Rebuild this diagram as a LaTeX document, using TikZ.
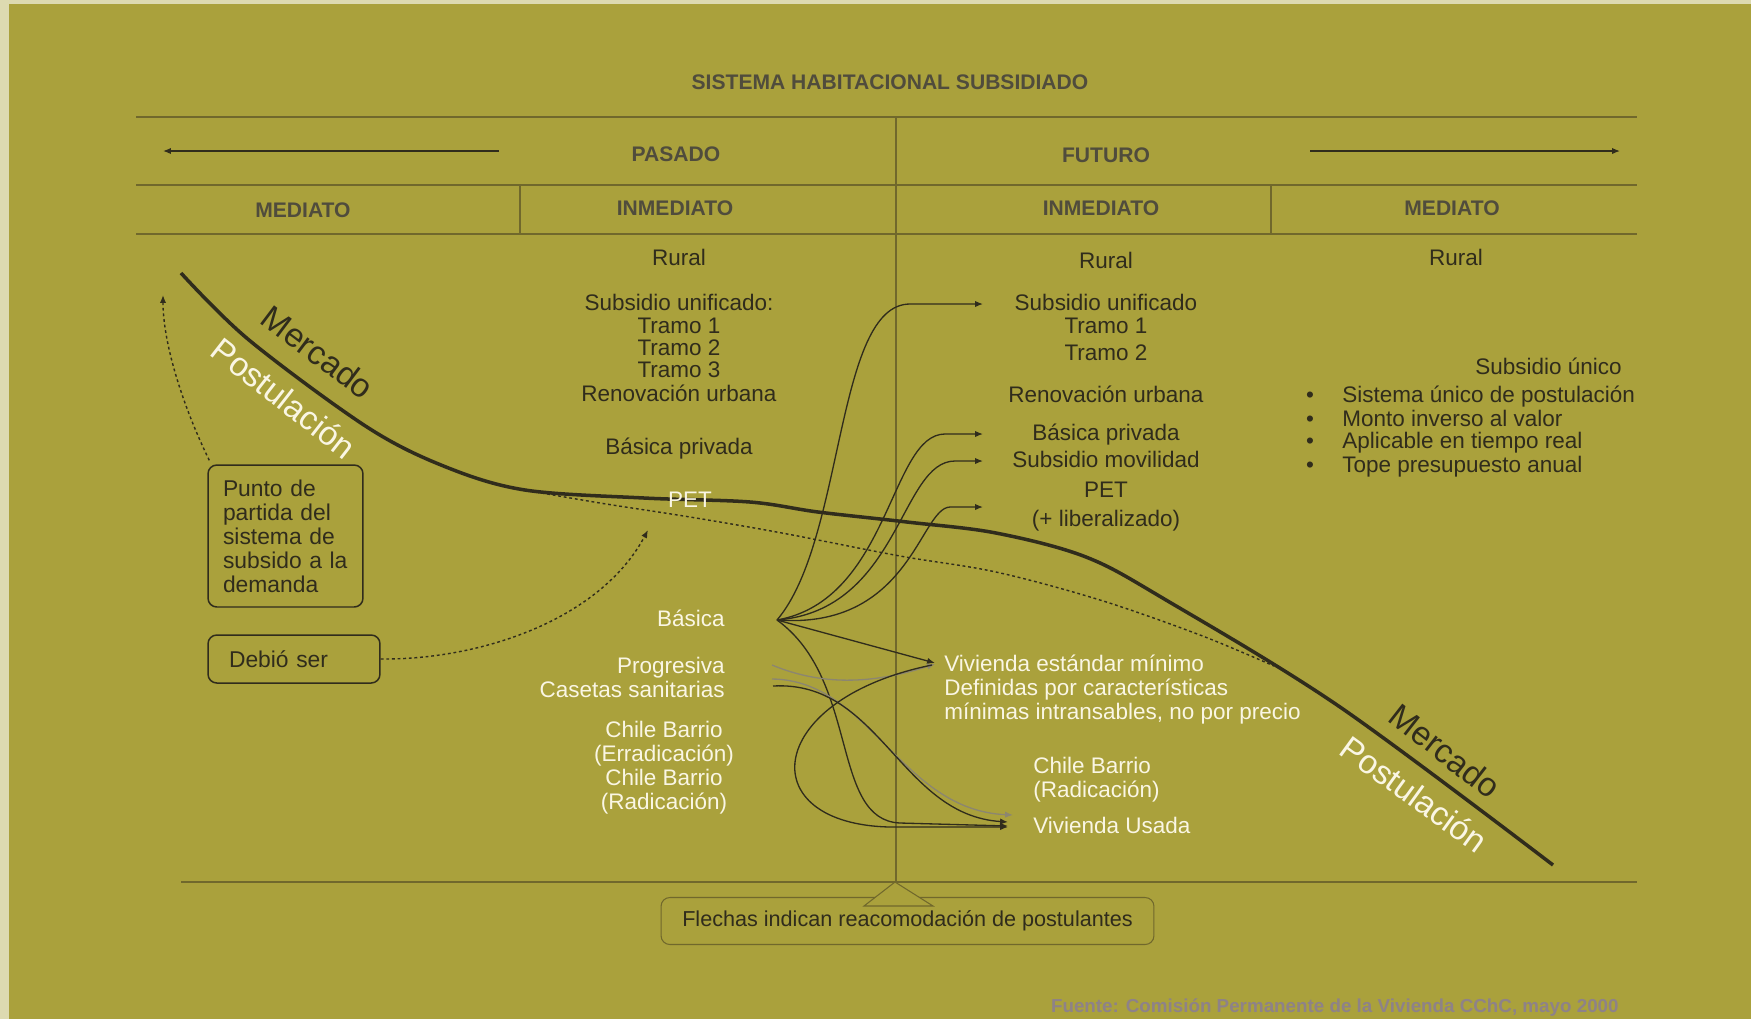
\documentclass[tikz,border=0pt]{standalone}
\usepackage{fontspec}
\setmainfont{Liberation Sans}
\usetikzlibrary{positioning, arrows.meta, calc}
\definecolor{mybg}{RGB}{170,161,60}
\definecolor{myink}{RGB}{48,44,28}
\definecolor{myhead}{RGB}{80,76,60}
\definecolor{mycream}{RGB}{250,246,228}
\definecolor{myrule}{RGB}{112,104,44}
\definecolor{mygray}{RGB}{140,134,112}
\definecolor{mysrc}{RGB}{142,130,136}

\begin{document}
\begin{tikzpicture}[
    x=0.02cm, y=-0.02cm,
    head/.style={font=\bfseries\fontsize{12}{14}\selectfont, text=myhead, inner sep=0pt},
    multi/.style={font=\fontsize{12.8}{13.66}\selectfont, text=myink, inner sep=0pt},
    txt/.style={multi, text height=9.5pt, text depth=2.5pt},
    wtxt/.style={txt, text=mycream},
    wmulti/.style={multi, text=mycream},
    curvelabel/.style={font=\fontsize{19}{22}\selectfont, inner sep=0pt},
    box/.style={draw=myink, line width=0.85pt, rounded corners=5pt, font=\fontsize{13}{13.66}\selectfont, text=myink, align=left},
    rule/.style={draw=myrule, line width=0.6pt},
    arrowline/.style={-{Latex[length=4.5pt,width=3.6pt]}, line width=0.75pt, draw=myink},
    grayline/.style={arrowline, draw=mygray},
    dotline/.style={arrowline, line width=0.8pt, dash pattern=on 1.6pt off 1.6pt},
]
\useasboundingbox (0,0) rectangle (1751,1019);
\fill[mybg!40!white] (0,0) rectangle (1751,1019);
\fill[mybg] (9,4) rectangle (1751,1019);

% table
\node[head] (title) at (890,82) {SISTEMA HABITACIONAL SUBSIDIADO};
\draw[rule] (136,117) -- (1637,117);
\draw[rule] (136,185) -- (1637,185);
\draw[rule] (136,234) -- (1637,234);
\draw[rule] (181,882) -- (1637,882);
\draw[rule] (896,117) -- (896,882);
\draw[rule] (520,185) -- (520,234);
\draw[rule] (1271,185) -- (1271,234);

\node[head] (pasado) at (676,154) {PASADO};
\node[head] (futuro) at (1106,155) {FUTURO};
\draw[arrowline] (499,151) -- (163,151);
\draw[arrowline] (1310,151) -- (1620,151);
\node[head] (medl) at (303,210) {MEDIATO};
\node[head] (inml) at (675,208) {INMEDIATO};
\node[head] (inmr) at (1101,208) {INMEDIATO};
\node[head] (medr) at (1452,208) {MEDIATO};

% pasado inmediato
\node[txt] (lrural) at (679,259) {Rural};
\node[txt] (lsub) at (679,304) {Subsidio unificado:};
\node[txt] (lt1) at (679,327) {Tramo 1};
\node[txt] (lt2) at (679,349) {Tramo 2};
\node[txt] (lt3) at (679,371) {Tramo 3};
\node[txt] (lren) at (679,395) {Renovación urbana};
\node[txt] (lbp) at (679,448) {Básica privada};

% futuro inmediato
\node[txt] (rrural) at (1106,262) {Rural};
\node[txt] (rsub) at (1106,304) {Subsidio unificado};
\node[txt] (rt1) at (1106,327) {Tramo 1};
\node[txt] (rt2) at (1106,354) {Tramo 2};
\node[txt] (rren) at (1106,396) {Renovación urbana};
\node[txt] (rbp) at (1106,434) {Básica privada};
\node[txt] (rmov) at (1106,461) {Subsidio movilidad};
\node[txt] (rpet) at (1106,491) {PET};
\node[txt] (rlib) at (1106,520) {(+ liberalizado)};

% futuro mediato
\node[txt] (frural) at (1456,259) {Rural};
\node[txt, anchor=east] (sunico) at (1622,368) {Subsidio único};
\node[txt] at (1310,396) {\textbullet};
\node[txt] at (1310,420) {\textbullet};
\node[txt] at (1310,442) {\textbullet};
\node[txt] at (1310,466) {\textbullet};
\node[txt, anchor=west] (su1) at (1342,396) {Sistema único de postulación};
\node[txt, anchor=west] (su2) at (1342,420) {Monto inverso al valor};
\node[txt, anchor=west] (su3) at (1342,442) {Aplicable en tiempo real};
\node[txt, anchor=west] (su4) at (1342,466) {Tope presupuesto anual};

% curves
\draw[myink, line width=2pt] plot[smooth, tension=0.55] coordinates {(181,273) (249,340) (367,427) (446,467) (525,490) (644,498) (750,502) (818,512) (907,522) (996,533) (1086,557) (1166,600) (1340,707) (1553,865)};
\draw[myink, line width=0.8pt, dash pattern=on 1.6pt off 1.6pt] plot[smooth, tension=0.55] coordinates {(525,490) (600,503) (690,517) (782,533) (900,556) (996,572) (1100,600) (1200,635) (1274,666)};
\node[curvelabel, text=myink, rotate=-37] (merc1) at (318,352) {Mercado};
\node[curvelabel, text=mycream, rotate=-38] (post1) at (284,398) {Postulación};
\node[curvelabel, text=myink, rotate=-38] (merc2) at (1445,751) {Mercado};
\node[curvelabel, text=mycream, rotate=-36] (post2) at (1414,794) {Postulación};
\node[wtxt] (pet) at (690,501) {PET};

% notes
\node[box, text width=2.5cm, inner xsep=0.3cm, minimum height=2.84cm] (punto) at (285.5,536) {Punto de\\partida del\\sistema de\\subsido a la\\demanda};
\node[box, text width=2.6cm, inner xsep=0.42cm, minimum height=0.96cm] (debio) at (294,659) {Debió ser};
\coordinate (mktop) at (163,295);
\draw[dotline] ($(punto.north west)+(2,-4)$) .. controls (180,400) and (163,340) .. (mktop);
\draw[dotline] (debio.east) .. controls (480,660) and (600,620) .. ($(pet)+(-42,29)$);

% programas
\node[wtxt, anchor=east] (basica) at (725,620) {Básica};
\node[wtxt, anchor=east] (progr) at (725,667) {Progresiva};
\node[wtxt, anchor=east] (caset) at (725,691) {Casetas sanitarias};
\node[wmulti, align=center] (cbarrio) at (664,768) {Chile Barrio\\(Erradicación)\\Chile Barrio\\(Radicación)};
\node[wtxt, anchor=west] (vem) at (944,665) {Vivienda estándar mínimo};
\node[wmulti, anchor=west, align=left] (vemdesc) at (944,702) {Definidas por características\\mínimas intransables, no por precio};
\node[wmulti, anchor=west, align=left] (cbrad) at (1033,780) {Chile Barrio\\(Radicación)};
\node[wtxt, anchor=west] (usada) at (1033,827) {Vivienda Usada};

% reacomodacion
\coordinate (basout) at ($(basica.east)+(52,0)$);
\coordinate (tipx) at (983,0);
\draw[arrowline] (basout) .. controls (845,540) and (835,304) .. (910,304) -- (tipx |- rsub);
\draw[arrowline] (basout) .. controls (890,600) and (890,434) .. (945,434) -- (tipx |- rbp);
\draw[arrowline] (basout) .. controls (900,610) and (900,461) .. (955,461) -- (tipx |- rmov);
\draw[arrowline] (basout) .. controls (910,630) and (920,508) .. (950,507) -- ($(tipx |- rpet)+(0,16)$);
\draw[arrowline] (basout) -- ($(vem.west)+(-9,-2)$);
\draw[arrowline] (basout) .. controls (860,680) and (830,820) .. (900,823) -- ($(usada.west)+(-25,-1)$);
\draw[grayline] ($(progr.east)+(47,-2)$) .. controls (820,685) and (870,685) .. ($(vem.west)+(-9,-1)$);
\draw[grayline] ($(progr.east)+(47,12)$) .. controls (870,680) and (900,810) .. ($(usada.west)+(-20,-12)$);
\draw[arrowline] ($(caset.east)+(48,-5)$) .. controls (880,680) and (900,815) .. ($(usada.west)+(-25,-5)$);
\draw[arrowline] ($(vem.west)+(-12,0)$) .. controls (760,700) and (750,830) .. (900,827) -- ($(usada.west)+(-25,0)$);

% leyenda
\node[box, draw=myrule, line width=0.6pt, align=center, minimum width=9.86cm, minimum height=0.94cm, font=\fontsize{12.3}{14}\selectfont] (flechas) at (907.5,921) {Flechas indican reacomodación de postulantes};
\filldraw[fill=mybg, draw=myrule, line width=0.6pt] (895,882) -- (864,906) -- (933,906) -- cycle;
\node[font=\bfseries\fontsize{10.7}{12}\selectfont, text=mysrc, anchor=east, inner sep=0pt] (fuente) at (1619,1008) {Fuente: Comisión Permanente de la Vivienda CChC, mayo 2000};
\end{tikzpicture}
\end{document}
